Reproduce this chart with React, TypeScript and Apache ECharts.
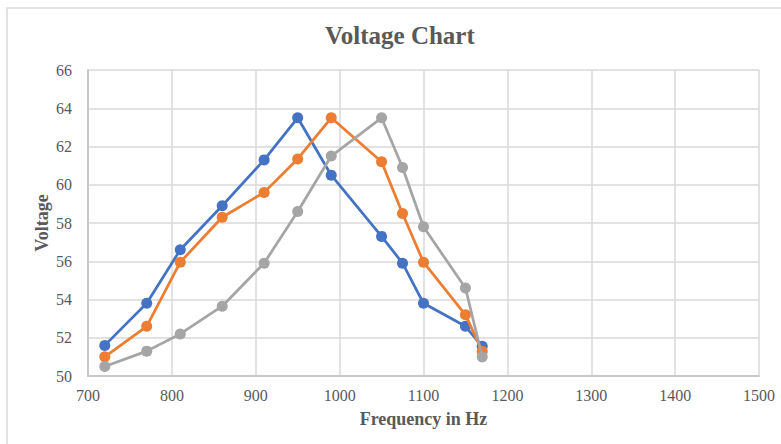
import React, { useEffect, useRef } from "react";
import * as echarts from "echarts";

const frequencies = [720, 770, 810, 860, 910, 950, 990, 1050, 1075, 1100, 1150, 1170];
const seriesBlue = [51.6, 53.8, 56.6, 58.9, 61.3, 63.5, 60.5, 57.3, 55.9, 53.8, 52.6, 51.55];
const seriesOrange = [51.0, 52.6, 55.95, 58.3, 59.6, 61.35, 63.5, 61.2, 58.5, 55.95, 53.2, 51.3];
const seriesGray = [50.5, 51.3, 52.2, 53.65, 55.9, 58.6, 61.5, 63.5, 60.9, 57.8, 54.6, 51.0];
const seriesNames = ["Series 1", "Series 2", "Series 3"];
const colors = ["#4472C4", "#ED7D31", "#A5A5A5"];

const FONT = "Liberation Serif";

export default function App() {
  const ref = useRef<HTMLDivElement>(null);
  useEffect(() => {
    if (!ref.current) return;
    const chart = echarts.init(ref.current, undefined, { renderer: "svg" });
    const all = [seriesBlue, seriesOrange, seriesGray];
    chart.setOption({
      animation: false,
      backgroundColor: "#ffffff",
      title: {
        text: "Voltage Chart",
        left: 320,
        top: 18,
        textStyle: { fontFamily: FONT, fontSize: 25, fontWeight: "bold", color: "#595959" },
      },
      graphic: [
        {
          type: "rect",
          shape: { x: 7, y: 8, width: 820, height: 500 },
          style: { fill: "none", stroke: "#d9d9d9", lineWidth: 1.5 },
          silent: true,
          z: -10,
        },
      ],
      grid: { left: 88, right: 22, top: 70, bottom: 68, containLabel: false },
      xAxis: {
        type: "value",
        min: 700,
        max: 1500,
        interval: 100,
        name: "Frequency in Hz",
        nameLocation: "middle",
        nameGap: 34,
        nameMoveOverlap: false,
        nameTextStyle: { fontFamily: FONT, fontSize: 18, fontWeight: "bold", color: "#595959" },
        axisLine: { show: true, lineStyle: { color: "#c8c8c8", width: 2 } },
        axisTick: { show: false },
        axisLabel: {
          fontFamily: FONT,
          fontSize: 16,
          color: "#595959",
          margin: 11,
          formatter: (v: number) => String(v),
        },
        splitLine: { show: true, lineStyle: { color: "#d9d9d9", width: 1.5 } },
      },
      yAxis: {
        type: "value",
        min: 50,
        max: 66,
        interval: 2,
        name: "Voltage",
        nameLocation: "middle",
        nameGap: 37,
        nameMoveOverlap: false,
        nameRotate: 90,
        nameTextStyle: { fontFamily: FONT, fontSize: 18, fontWeight: "bold", color: "#595959" },
        axisLine: { show: true, lineStyle: { color: "#c8c8c8", width: 2 } },
        axisTick: { show: false },
        axisLabel: {
          fontFamily: FONT,
          fontSize: 16,
          color: "#595959",
          margin: 16,
          formatter: (v: number) => String(v),
        },
        splitLine: { show: true, lineStyle: { color: "#d9d9d9", width: 1.5 } },
      },
      series: all.map((vals, i) => ({
        type: "line",
        name: seriesNames[i],
        data: frequencies.map((f, j) => [f, vals[j]]),
        symbol: "circle",
        symbolSize: 11,
        lineStyle: { color: colors[i], width: 2.75 },
        itemStyle: { color: colors[i] },
        z: 2 + i,
      })),
    });
    return () => chart.dispose();
  }, []);
  return (
    <div
      ref={ref}
      style={{ position: "fixed", left: 0, top: 0, width: 781, height: 444 }}
    />
  );
}
